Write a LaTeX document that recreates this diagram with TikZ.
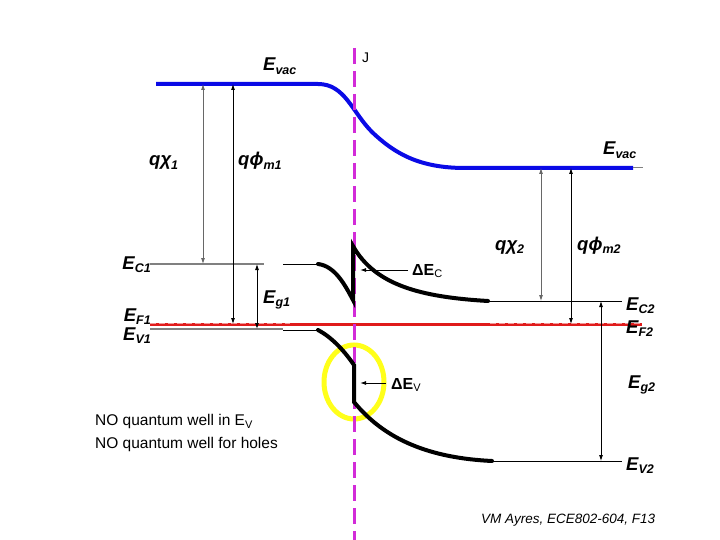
\documentclass[tikz,border=0pt]{standalone}
\usepackage{fontspec}
\setmainfont{Liberation Sans}
\usetikzlibrary{arrows.meta,shapes.geometric}
\definecolor{VacBlue}{HTML}{0A0AE6}
\definecolor{FermiRed}{HTML}{E01B1B}
\definecolor{JuncMagenta}{HTML}{D22BD8}
\definecolor{WellYellow}{HTML}{FFFF1A}
\definecolor{LineGray}{HTML}{808080}
\newcommand{\bandsub}[1]{\raisebox{-0.35ex}{\fontsize{12.5}{12.5}\selectfont #1}}
\newcommand{\smallsub}[1]{\raisebox{-0.35ex}{\fontsize{11}{11}\selectfont\mdseries #1}}

\begin{document}
\begin{tikzpicture}[x=1pt, y=-1pt, every node/.style={font=\fontsize{18.5}{20}\selectfont\bfseries\itshape, inner sep=0pt}]
  \tikzstyle{band}=[line width=4pt, black, line cap=round]
  \tikzstyle{level}=[line width=1pt, black]
  \tikzstyle{gline}=[line width=1.3pt, LineGray]
  \tikzstyle{dim}=[{Latex[length=6pt,width=4pt]}-{Latex[length=6pt,width=4pt]}, line width=0.8pt]
  \tikzstyle{pointer}=[-{Latex[length=6pt,width=4pt]}, line width=1pt]
  \tikzstyle{plain}=[font=\fontsize{15.5}{23}\selectfont\mdseries\upshape]
  \useasboundingbox (0,0) rectangle (720,540);

  % vacuum level
  \coordinate (vacL) at (156,84);
  \coordinate (vacR) at (633,168);
  \draw[VacBlue, line width=4pt] (vacL) -- (318,84)
    .. controls (345,84) and (352,112) .. (372,132)
    .. controls (395,154) and (420,168) .. (465,168) -- (vacR);
  \draw[gline, line width=1pt] (vacR) -- (643,168);

  % Fermi level
  \coordinate (efL) at (150,324);
  \coordinate (efR) at (642,324);
  \draw[FermiRed, line width=3pt] (efL) -- (efR);
  \draw[FermiRed!45!white, line width=1pt, dash pattern=on 6pt off 3pt] (150,323) -- (290,323);
  \draw[FermiRed!45!white, line width=1pt, dash pattern=on 6pt off 3pt] (490,323) -- (640,323);

  % well marker and junction
  \node[draw=WellYellow, line width=5pt, ellipse, minimum width=60pt, minimum height=74pt] (well) at (354,382) {};
  \draw[JuncMagenta, line width=3pt, dash pattern=on 16pt off 7pt] (354,48) -- (354,540);

  % conduction band
  \coordinate (ecL) at (150,264);
  \coordinate (ecR) at (622,301);
  \draw[gline] (ecL) -- (264,264);
  \draw[level] (283,264) -- (318,264);
  \draw[band] (318,264) .. controls (335,266) and (345,285) .. (353,300) -- (353,246)
    .. controls (375,285) and (420,297) .. (488,301);
  \draw[level] (488,301) -- (ecR);

  % valence band
  \coordinate (evL) at (150,329);
  \coordinate (evR) at (622,461);
  \draw[gline] (evL) -- (283,329);
  \draw[level] (283,330) -- (318,330);
  \draw[band] (318,330) .. controls (333,338) and (345,352) .. (354,365) -- (354,402)
    .. controls (385,440) and (430,458) .. (492,461);
  \draw[level] (492,461) -- (evR);

  % arrows
  \coordinate (chiA) at (203,84);   \coordinate (chiB) at (203,264);
  \coordinate (phiA) at (233,84);   \coordinate (phiB) at (233,324);
  \coordinate (gapA) at (257,264);  \coordinate (gapB) at (257,329);
  \coordinate (chiC) at (541,168);  \coordinate (chiD) at (541,301);
  \coordinate (phiC) at (571,168);  \coordinate (phiD) at (571,324);
  \coordinate (gapC) at (601,301);  \coordinate (gapD) at (601,461);
  \draw[dim, LineGray!80!black] (chiA) -- (chiB);
  \draw[dim] (phiA) -- (phiB);
  \draw[dim] (gapA) -- (gapB);
  \draw[dim, LineGray!80!black] (chiC) -- (chiD);
  \draw[dim] (phiC) -- (phiD);
  \draw[dim] (gapC) -- (gapD);

  % labels
  \node[anchor=base west] (evac1) at (263,71) {E\bandsub{vac}};
  \node[anchor=base west] (evac2) at (603,155) {E\bandsub{vac}};
  \node[anchor=base west, font=\fontsize{14}{16}\selectfont\mdseries\upshape] (junc) at (362,63) {J};
  \node[anchor=base west] (chi1) at (149,166) {qχ\bandsub{1}};
  \node[anchor=base west] (phi1) at (238,166) {qϕ\bandsub{m1}};
  \node[anchor=base west] (chi2) at (495,250) {qχ\bandsub{2}};
  \node[anchor=base west] (phi2) at (577,250) {qϕ\bandsub{m2}};
  \node[anchor=base east] (ec1) at (151,269) {E\bandsub{C1}};
  \node[anchor=base east] (ef1) at (151,321) {E\bandsub{F1}};
  \node[anchor=base east] (ev1) at (151,340) {E\bandsub{V1}};
  \node[anchor=base west] (eg1) at (263,303) {E\bandsub{g1}};
  \node[anchor=base west] (ec2) at (626,310) {E\bandsub{C2}};
  \node[anchor=base west] (ef2) at (626,333) {E\bandsub{F2}};
  \node[anchor=base west] (eg2) at (628,388) {E\bandsub{g2}};
  \node[anchor=base west] (ev2) at (626,470) {E\bandsub{V2}};
  \node[anchor=base west, font=\fontsize{16}{18}\selectfont\bfseries\upshape] (dec) at (412,275) {ΔE\smallsub{C}};
  \node[anchor=base west, font=\fontsize{16}{18}\selectfont\bfseries\upshape] (dev) at (391,389) {ΔE\smallsub{V}};
  \coordinate (decT) at (408,270);
  \coordinate (devT) at (386,383);
  \draw[pointer] (decT) -- (360,270);
  \draw[pointer] (devT) -- (360,383);

  \node[plain, anchor=north west, align=left] (note) at (95,414)
    {NO quantum well in E\raisebox{-0.35ex}{\fontsize{11}{11}\selectfont V}\\NO quantum well for holes};
  \node[anchor=base west, font=\fontsize{13.5}{15}\selectfont\mdseries\itshape] (credit) at (481,523)
    {VM Ayres, ECE802-604, F13};
\end{tikzpicture}
\end{document}
